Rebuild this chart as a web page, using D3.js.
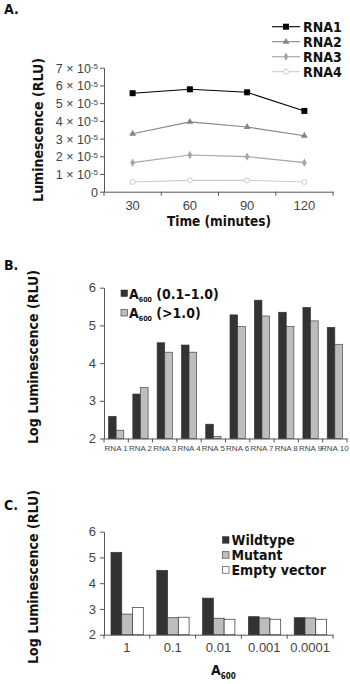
<!DOCTYPE html>
<html lang="en">
<head>
    <meta charset="UTF-8">
    <title>Luminescence figure</title>
    <script src="https://d3js.org/d3.v7.min.js"></script>
    <style>
        body { margin: 0; background: #fff; }
        .lbl { font-family: "Liberation Sans Narrow", "DejaVu Sans Condensed", "Liberation Sans", sans-serif; font-weight: bold; fill: #111; }
        .tick-text { font-family: "Liberation Sans", Arial, sans-serif; fill: #444; }
    </style>
</head>
<body>
    <div id="fig"></div>
    <script>
        // Panel A data (values in units of 10^-5 RLU)
        const timesA = ["30", "60", "90", "120"];
        const seriesA = ["RNA1", "RNA2", "RNA3", "RNA4"];
        const rna1 = [5.56, 5.78, 5.61, 4.56];
        const rna2 = [3.27, 3.94, 3.65, 3.16];
        const rna3 = [1.64, 2.07, 1.98, 1.64];
        const rna4 = [0.55, 0.64, 0.64, 0.55];
        const yTicksA = [0, 1, 2, 3, 4, 5, 6, 7];

        // Panel B data
        const catsB = ["RNA 1", "RNA 2", "RNA 3", "RNA 4", "RNA 5", "RNA 6", "RNA 7", "RNA 8", "RNA 9", "RNA 10"];
        const lowA600 = [2.59, 3.18, 4.54, 4.48, 2.38, 5.28, 5.67, 5.35, 5.48, 4.95];
        const highA600 = [2.22, 3.35, 4.29, 4.29, 2.06, 4.97, 5.25, 4.97, 5.12, 4.50];
        const yTicksB = [2, 3, 4, 5, 6];

        // Panel C data
        const catsC = ["1", "0.1", "0.01", "0.001", "0.0001"];
        const wildtype = [5.20, 4.50, 3.42, 2.70, 2.66];
        const mutant = [2.80, 2.66, 2.64, 2.65, 2.65];
        const emptyVector = [3.06, 2.68, 2.60, 2.60, 2.60];
        const yTicksC = [2, 3, 4, 5, 6];

        const svg = d3.select("#fig").append("svg")
            .attr("width", 350)
            .attr("height", 684);

        function panelLetter(t, y) {
            svg.append("text").attr("class", "lbl")
                .attr("x", 4).attr("y", y)
                .attr("font-size", 14)
                .text(t);
        }

        function yTitle(t, x, cy, size) {
            svg.append("text").attr("class", "lbl")
                .attr("transform", `translate(${x},${cy}) rotate(-90)`)
                .attr("text-anchor", "middle")
                .attr("font-size", size)
                .text(t);
        }

        function styleAxis(g, size) {
            g.selectAll(".tick text").attr("class", "tick-text").attr("font-size", size);
            g.selectAll(".domain, .tick line").attr("stroke", "#555");
        }

        // tick marks on the band boundaries
        function boundTicks(g, x, n) {
            g.selectAll(".bound")
                .data(d3.range(n + 1))
                .enter().append("line")
                .attr("x1", i => x.range()[0] + i * x.step())
                .attr("x2", i => x.range()[0] + i * x.step())
                .attr("y1", 0).attr("y2", 4)
                .attr("stroke", "#555");
        }

        // ---------- Panel A ----------
        panelLetter("A.", 14);

        const xA = d3.scaleBand().domain(timesA).range([104, 333]);
        const yA = d3.scaleLinear().domain([0, 7]).range([191.7, 67.7]);

        const yAxisA = svg.append("g")
            .attr("transform", "translate(104,0)")
            .call(d3.axisLeft(yA).tickValues(yTicksA).tickSize(4).tickSizeOuter(0).tickFormat(""));
        styleAxis(yAxisA, 12);
        yAxisA.selectAll(".tick").append("text")
            .attr("class", "tick-text")
            .attr("x", -6).attr("dy", "0.36em")
            .attr("text-anchor", "end")
            .attr("font-size", 12.5)
            .each(function(d) {
                const t = d3.select(this);
                if (d === 0) { t.text("0"); return; }
                t.append("tspan").text(d + " \u00d7 10");
                t.append("tspan").attr("dy", "-0.45em").attr("font-size", 8).text("-5");
            });

        const xAxisA = svg.append("g")
            .attr("transform", "translate(0,191.7)")
            .call(d3.axisBottom(xA).tickSize(0).tickPadding(8));
        styleAxis(xAxisA, 13);
        xAxisA.selectAll(".tick text").attr("dy", "0.8em");
        boundTicks(xAxisA, xA, timesA.length);

        svg.append("text").attr("class", "lbl")
            .attr("x", 219).attr("y", 226)
            .attr("text-anchor", "middle")
            .attr("font-size", 13.5)
            .text("Time (minutes)");

        yTitle("Luminescence (RLU)", 43, 130, 14);

        const colorsA = ["#000", "#858585", "#a6a6a6", "#cccccc"];
        const dataA = [rna1, rna2, rna3, rna4];
        const lineA = d3.line()
            .x((d, i) => xA(timesA[i]) + xA.bandwidth() / 2)
            .y(d => yA(d));
        const symbols = [d3.symbolSquare, d3.symbolTriangle, d3.symbolDiamond, d3.symbolCircle];
        const symSizes = [36, 20, 20, 20];

        function drawMarker(g, k, x, y) {
            const p = g.append("path")
                .attr("transform", `translate(${x},${y})`)
                .attr("d", d3.symbol().type(symbols[k]).size(symSizes[k])());
            if (k === 3) {
                p.attr("fill", "#fff").attr("stroke", colorsA[k]).attr("stroke-width", 1);
            } else {
                p.attr("fill", colorsA[k]);
            }
        }

        dataA.forEach((vals, k) => {
            svg.append("path")
                .datum(vals)
                .attr("fill", "none")
                .attr("stroke", colorsA[k])
                .attr("stroke-width", 1.1)
                .attr("d", lineA);
            const g = svg.append("g");
            vals.forEach((v, i) => drawMarker(g, k, xA(timesA[i]) + xA.bandwidth() / 2, yA(v)));
        });

        // legend A
        const legA = svg.append("g");
        seriesA.forEach((name, k) => {
            const y = 26.7 + k * 15;
            legA.append("line")
                .attr("x1", 272).attr("x2", 300)
                .attr("y1", y).attr("y2", y)
                .attr("stroke", colorsA[k]).attr("stroke-width", 1.1);
            drawMarker(legA, k, 286, y);
            legA.append("text").attr("class", "lbl")
                .attr("x", 303).attr("y", y + 5)
                .attr("font-size", 14)
                .text(name);
        });

        // ---------- Panel B ----------
        panelLetter("B.", 270);

        const xB = d3.scaleBand().domain(catsB).range([104, 347]);
        const xB1 = d3.scaleBand().domain([0, 1]).range([4.5, 19.8]);
        const yB = d3.scaleLinear().domain([2, 6]).range([438.5, 287.7]);

        const yAxisB = svg.append("g")
            .attr("transform", "translate(104,0)")
            .call(d3.axisLeft(yB).tickValues(yTicksB).tickFormat(d3.format("d")).tickSize(4).tickSizeOuter(0).tickPadding(4));
        styleAxis(yAxisB, 13);

        const xAxisB = svg.append("g")
            .attr("transform", "translate(0,438.5)")
            .call(d3.axisBottom(xB).tickSize(0).tickPadding(6));
        styleAxis(xAxisB, 8);
        xAxisB.selectAll(".tick text").attr("dy", "0.75em");
        boundTicks(xAxisB, xB, catsB.length);

        const fillsB = ["#333333", "#bdbdbd"];
        [lowA600, highA600].forEach((vals, k) => {
            svg.append("g").selectAll("rect")
                .data(vals)
                .enter().append("rect")
                .attr("x", (d, i) => xB(catsB[i]) + xB1(k))
                .attr("y", d => yB(d))
                .attr("width", xB1.bandwidth())
                .attr("height", d => yB(2) - yB(d))
                .attr("fill", fillsB[k])
                .attr("stroke", "#333")
                .attr("stroke-width", 0.6);
        });

        yTitle("Log Luminescence (RLU)", 38, 357, 14);

        // legend B
        const legTextB = ["(0.1\u20131.0)", "(>1.0)"];
        legTextB.forEach((t, k) => {
            const cy = 293.5 + k * 19.5;
            svg.append("rect")
                .attr("x", 121).attr("y", cy - 3.5)
                .attr("width", 6.5).attr("height", 6.5)
                .attr("fill", fillsB[k]).attr("stroke", "#333").attr("stroke-width", 0.6);
            const tx = svg.append("text").attr("class", "lbl")
                .attr("x", 129).attr("y", cy + 5)
                .attr("font-size", 14);
            tx.append("tspan").text("A");
            tx.append("tspan").attr("dy", 3).attr("font-size", 7).text("600");
            tx.append("tspan").attr("dy", -3).text(" " + t);
        });

        // ---------- Panel C ----------
        panelLetter("C.", 510);

        const xC = d3.scaleBand().domain(catsC).range([104, 333]);
        const xC1 = d3.scaleBand().domain([0, 1, 2]).range([7, 39.3]);
        const yC = d3.scaleLinear().domain([2, 6]).range([634.7, 531.7]);

        const yAxisC = svg.append("g")
            .attr("transform", "translate(104,0)")
            .call(d3.axisLeft(yC).tickValues(yTicksC).tickFormat(d3.format("d")).tickSize(4).tickSizeOuter(0).tickPadding(4));
        styleAxis(yAxisC, 13);

        const xAxisC = svg.append("g")
            .attr("transform", "translate(0,634.7)")
            .call(d3.axisBottom(xC).tickSize(0).tickPadding(7));
        styleAxis(xAxisC, 13);
        xAxisC.selectAll(".tick text").attr("dy", "0.8em");
        boundTicks(xAxisC, xC, catsC.length);

        const fillsC = ["#333333", "#bdbdbd", "#ffffff"];
        [wildtype, mutant, emptyVector].forEach((vals, k) => {
            svg.append("g").selectAll("rect")
                .data(vals)
                .enter().append("rect")
                .attr("x", (d, i) => xC(catsC[i]) + xC1(k))
                .attr("y", d => yC(d))
                .attr("width", xC1.bandwidth())
                .attr("height", d => yC(2) - yC(d))
                .attr("fill", fillsC[k])
                .attr("stroke", "#333")
                .attr("stroke-width", 0.7);
        });

        yTitle("Log Luminescence (RLU)", 38, 577, 14);

        const xlabC = svg.append("text").attr("class", "lbl")
            .attr("x", 211).attr("y", 675)
            .attr("font-size", 14);
        xlabC.append("tspan").text("A");
        xlabC.append("tspan").attr("dy", 4).attr("font-size", 8).text("600");

        // legend C
        const legNamesC = ["Wildtype", "Mutant", "Empty vector"];
        legNamesC.forEach((name, k) => {
            const cy = 540 + k * 15;
            svg.append("rect")
                .attr("x", 222.5).attr("y", cy - 3.3)
                .attr("width", 6.5).attr("height", 6.5)
                .attr("fill", fillsC[k]).attr("stroke", "#333").attr("stroke-width", 0.6);
            svg.append("text").attr("class", "lbl")
                .attr("x", 231.5).attr("y", cy + 5)
                .attr("font-size", 14)
                .text(name);
        });
    </script>
</body>
</html>
